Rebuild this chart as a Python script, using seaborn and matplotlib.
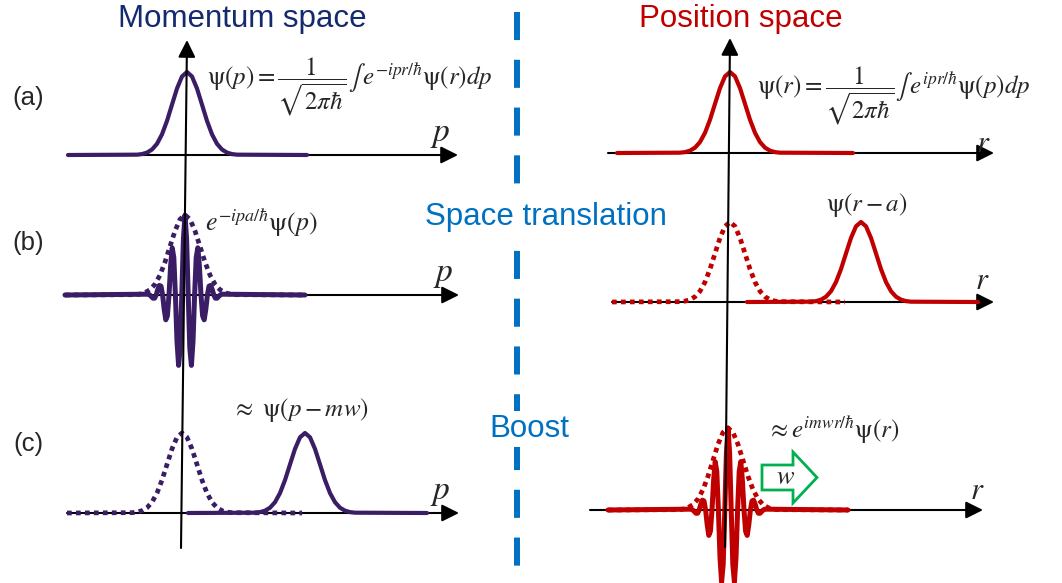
import matplotlib
matplotlib.use("Agg")
import matplotlib.pyplot as plt
import matplotlib.patches as mpatches
import seaborn as sns

# -----------------------------
# Data (in pixels)
# -----------------------------
# gaussian bump: offset from peak (px) and height as a fraction of the peak
gauss_dx = [-50, -45, -40, -35, -30, -25, -20, -15, -10, -5, 0,
            5, 10, 15, 20, 25, 30, 35, 40, 45, 50]
gauss_h = [0.004, 0.011, 0.029, 0.066, 0.135, 0.249, 0.411, 0.607, 0.801, 0.946, 1.0,
           0.946, 0.801, 0.607, 0.411, 0.249, 0.135, 0.066, 0.029, 0.011, 0.004]

# oscillating wave packet: offset from centre (px) and fraction of the peak
packet_dx = [-38.4, -36.8, -35.2, -33.6, -32.0, -30.4, -28.8, -27.2, -25.6, -24.0,
             -22.4, -20.8, -19.2, -17.6, -16.0, -14.4, -12.8, -11.2, -9.6, -8.0,
             -6.4, -4.8, -3.2, -1.6, 0.0, 1.6, 3.2, 4.8, 6.4, 8.0,
             9.6, 11.2, 12.8, 14.4, 16.0, 17.6, 19.2, 20.8, 22.4, 24.0,
             25.6, 27.2, 28.8, 30.4, 32.0, 33.6, 35.2, 36.8, 38.4]
packet_h = [0.01, 0.01, 0.0, -0.02, -0.04, -0.04, 0.0, 0.07, 0.12, 0.11,
            0.0, -0.18, -0.31, -0.26, 0.0, 0.36, 0.59, 0.47, 0.0, -0.58,
            -0.88, -0.66, 0.0, 0.70, 1.00, 0.70, 0.0, -0.66, -0.88, -0.58,
            0.0, 0.47, 0.59, 0.36, 0.0, -0.26, -0.31, -0.18, 0.0, 0.11,
            0.12, 0.07, 0.0, -0.04, -0.04, -0.02, 0.0, 0.01, 0.01]

PURPLE = "#3a1d64"
RED = "#c00000"
BLUE = "#0070c0"
NAVY = "#142a6e"
GREEN = "#00b050"
DOTS = (0, (1, 0.9))

sns.set_theme(style="white")
plt.rcParams["font.family"] = ["Liberation Sans", "DejaVu Sans"]
plt.rcParams["mathtext.fontset"] = "stix"

fig = plt.figure(figsize=(10.62, 5.83), dpi=100)
ax = fig.add_axes([0, 0, 1, 1])


def bump(x0, y0, peak, x_start, x_end, dx, h, color, lw, ls="-"):
    xs = [x_start] + [x0 + d for d in dx] + [x_end]
    ys = [y0] + [y0 - peak * v for v in h] + [y0]
    sns.lineplot(x=xs, y=ys, sort=False, estimator=None, ax=ax, color=color,
                 linewidth=lw, linestyle=ls, zorder=3)


def axis_arrow(x0, y0, x1, y1, z=2):
    ax.annotate("", xy=(x1, y1), xytext=(x0, y0),
                arrowprops=dict(arrowstyle="-|>", color="black", lw=1.5,
                                mutation_scale=26, shrinkA=0, shrinkB=0),
                zorder=z)


# -----------------------------
# Axes of each panel
# -----------------------------
axis_arrow(181, 548, 187, 40, z=4)
axis_arrow(725, 547, 730, 38, z=4)
axis_arrow(68, 155, 458, 155)
axis_arrow(65, 295, 459, 295)
axis_arrow(67, 513, 459, 513)
axis_arrow(608, 153, 994, 153)
axis_arrow(612, 302, 994, 302)
axis_arrow(590, 510, 983, 510)

# -----------------------------
# Curves
# -----------------------------
# (a)
bump(187, 155, 83, 68, 307, gauss_dx, gauss_h, PURPLE, 3.0)
bump(730, 153, 81, 617, 853, gauss_dx, gauss_h, RED, 3.0)
# (b)
bump(185, 295, 80, 65, 305, gauss_dx, gauss_h, PURPLE, 3.4, DOTS)
bump(185, 295, 80, 65, 305, packet_dx, packet_h, PURPLE, 3.6)
bump(730, 302, 80, 612, 845, gauss_dx, gauss_h, RED, 3.4, DOTS)
bump(861, 302, 80, 747, 978, gauss_dx, gauss_h, RED, 3.0)
# (c)
bump(182, 513, 80, 67, 302, gauss_dx, gauss_h, PURPLE, 3.4, DOTS)
bump(305, 513, 80, 188, 427, gauss_dx, gauss_h, PURPLE, 3.0)
bump(728, 510, 82, 608, 848, gauss_dx, gauss_h, RED, 3.4, DOTS)
bump(728, 510, 82, 608, 848, packet_dx, packet_h, RED, 3.6)

# -----------------------------
# Divider and headings
# -----------------------------
ax.plot([517, 517], [12, 568], color=BLUE, lw=4.3, ls=(0, (4.7, 3.3)), zorder=1)

ax.text(242, 19, "Momentum space", color=NAVY, fontsize=22.5, ha="center", va="center")
ax.text(741, 19, "Position space", color=RED, fontsize=22.5, ha="center", va="center")
ax.text(546, 217, "Space translation", color=BLUE, fontsize=22.5, ha="center", va="center",
        bbox=dict(fc="white", ec="none", pad=2), zorder=5)
ax.text(529, 429, "Boost", color=BLUE, fontsize=22.5, ha="center", va="center",
        bbox=dict(fc="white", ec="none", pad=2), zorder=5)

for lab, yy in [("(a)", 98), ("(b)", 243), ("(c)", 444)]:
    ax.text(28, yy, lab, fontsize=18.5, ha="center", va="center")

# -----------------------------
# Formulas and axis labels
# -----------------------------
eq = 18
ax.text(207, 87, r"$\mathrm{\psi}(p)=\dfrac{1}{\sqrt{2\pi\hbar}}\int\, e^{-ipr/\hbar}\mathrm{\psi}(r)dp$",
        fontsize=eq, ha="left", va="center")
ax.text(757, 96, r"$\mathrm{\psi}(r)=\dfrac{1}{\sqrt{2\pi\hbar}}\int\, e^{ipr/\hbar}\mathrm{\psi}(p)dp$",
        fontsize=eq, ha="left", va="center")
ax.text(205, 223, r"$e^{-ipa/\hbar}\mathrm{\psi}(p)$", fontsize=18.5, ha="left", va="center")
ax.text(867, 205, r"$\mathrm{\psi}(r-a)$", fontsize=eq, ha="center", va="center")
ax.text(300, 410, r"$\approx\ \mathrm{\psi}(p-mw)$", fontsize=eq, ha="center", va="center")
ax.text(833, 430, r"$\approx e^{imwr/\hbar}\mathrm{\psi}(r)$", fontsize=eq, ha="center", va="center")

for xx, yy in [(440, 135), (443, 275), (440, 492)]:
    ax.text(xx, yy, r"$p$", fontsize=24, ha="center", va="center")
for xx, yy in [(983, 144), (982, 281), (977, 491)]:
    ax.text(xx, yy, r"$r$", fontsize=22, ha="center", va="center")

# green boost arrow
ax.add_patch(mpatches.FancyArrow(762, 477.5, 55, 0, width=25, head_width=51,
                                 head_length=24, length_includes_head=True,
                                 fill=False, ec=GREEN, lw=2, zorder=5))
ax.text(786, 477, r"$w$", fontsize=19, ha="center", va="center", zorder=6)

ax.set_xlim(0, 1062)
ax.set_ylim(583, 0)
ax.axis("off")

fig.savefig("out.png", dpi=100, facecolor="white")
